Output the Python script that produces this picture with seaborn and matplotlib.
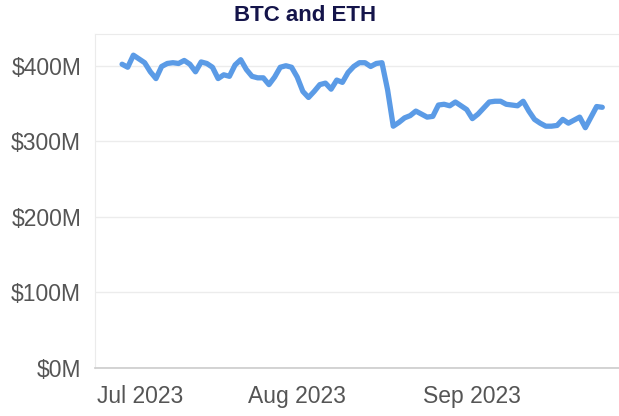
import pandas as pd
import seaborn as sns
import matplotlib.pyplot as plt
import matplotlib.dates as mdates
import matplotlib.transforms as mtransforms
from matplotlib.ticker import FuncFormatter

# daily values, $M (Jul 1 .. Sep 24 2023)
start_date = "2023-07-01"
values_m = [402, 398, 414, 409, 404, 392, 383, 399, 403, 404,
            403, 407, 402, 392, 405, 403, 398, 383, 388, 386,
            401, 408, 395, 386, 384, 384, 375, 385, 398, 400,
            398, 385, 366, 358, 366, 375, 377, 369, 381, 378,
            391, 399, 404, 404, 399, 403, 404, 368, 320, 325,
            331, 334, 340, 336, 332, 333, 348, 349, 347, 352,
            347, 342, 330, 336, 344, 352, 353, 353, 349, 348,
            347, 353, 340, 329, 324, 320, 320, 321, 329, 324,
            328, 332, 318, 332, 346, 345]
title = "BTC and ETH"
y_ticks = [0, 100, 200, 300, 400]
x_ticks = ["2023-07-01", "2023-08-01", "2023-09-01"]

dates = pd.date_range(start_date, periods=len(values_m), freq="D")
df = pd.DataFrame({"date": dates, "value": values_m})

sns.set_style("white")
plt.rcParams['font.family'] = ['Liberation Sans', 'DejaVu Sans']

fig = plt.figure(figsize=(6.19, 4.16), dpi=100)
ax = fig.add_axes([95 / 619, 1 - 368 / 416, 1 - 95 / 619, (368 - 34) / 416])

sns.lineplot(data=df, x="date", y="value", ax=ax, color="#5b9be6", linewidth=3.8)

ax.set_ylim(0, 442)
ax.set_xlim(pd.Timestamp("2023-06-26 05:00"), pd.Timestamp("2023-09-26 23:00"))
ax.set_yticks(y_ticks)
ax.yaxis.set_major_formatter(FuncFormatter(lambda v, p: "$%dM" % v))
ax.set_xticks(pd.to_datetime(x_ticks))
ax.xaxis.set_major_formatter(mdates.DateFormatter("%b %Y"))
ax.set_xlabel("")
ax.set_ylabel("")

ax.grid(axis="y", color="#ececec", linewidth=1)
ax.set_axisbelow(True)
ax.tick_params(axis="both", labelsize=16.5, labelcolor="#555555", color="#e6e6e6",
               length=8, width=1)
ax.tick_params(axis="y", pad=2)
ax.tick_params(axis="x", pad=4)

for side in ["left", "top"]:
    ax.spines[side].set_color("#ebebeb")
ax.spines["right"].set_visible(False)
ax.spines["bottom"].set_color("#cccccc")
ax.spines["bottom"].set_linewidth(1.2)

# first label is nudged right like in the reference
fig.canvas.draw()
first = ax.get_xticklabels()[0]
first.set_transform(first.get_transform() + mtransforms.ScaledTranslation(18 / 100, 0, fig.dpi_scale_trans))

fig.text(0.493, 0.962, title, ha="center", va="center", fontsize=16,
         fontweight="bold", color="#14144a")

plt.savefig("out.png", dpi=100)
